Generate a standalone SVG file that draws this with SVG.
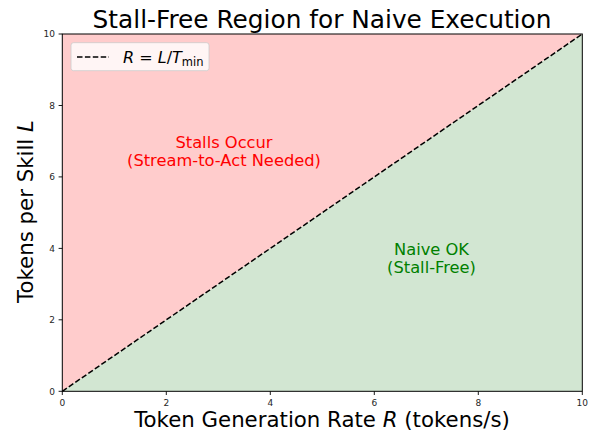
<svg xmlns="http://www.w3.org/2000/svg" width="597" height="436" viewBox="0 0 597 436">
  <style>
    text { font-family: "DejaVu Sans", sans-serif; fill: #000; }
    .tick { font-size: 9px; fill: #262626; }
    .title { font-size: 24.8px; }
    .axlabel { font-size: 21.3px; }
    .tickline { stroke: #000; stroke-width: 0.9; }
    .region-red { font-size: 16.3px; fill: #ff0000; }
    .region-green { font-size: 16.3px; fill: #008000; }
    .dash { stroke: #000; stroke-width: 1.5; stroke-dasharray: 5.5,2.4; }
  </style>
  <rect width="597" height="436" fill="#ffffff"/>

  <!-- plot area: x 0..10 -> 62.3..582.3, y 0..10 -> 391.3..34 -->
  <g id="region-stall">
    <polygon points="62.3,391.3 582.3,34 62.3,34" fill="#ffcccc"/>
    <text class="region-red" x="224" y="148" text-anchor="middle">Stalls Occur</text>
    <text class="region-red" x="224" y="166" text-anchor="middle">(Stream-to-Act Needed)</text>
  </g>
  <g id="region-ok">
    <polygon points="62.3,391.3 582.3,391.3 582.3,34" fill="#d2e6d2"/>
    <text class="region-green" x="431.5" y="255" text-anchor="middle">Naive OK</text>
    <text class="region-green" x="431.5" y="273" text-anchor="middle">(Stall-Free)</text>
  </g>

  <g id="connectors">
    <line class="dash" x1="62.3" y1="391.3" x2="582.3" y2="34"/>
  </g>

  <!-- axes frame -->
  <g id="axes">
    <rect x="62.3" y="34" width="520" height="357.3" fill="none" stroke="#000" stroke-width="1"/>
    <g class="tickline">
      <line x1="62.3" y1="391.3" x2="62.3" y2="395"/>
      <line x1="166.3" y1="391.3" x2="166.3" y2="395"/>
      <line x1="270.3" y1="391.3" x2="270.3" y2="395"/>
      <line x1="374.3" y1="391.3" x2="374.3" y2="395"/>
      <line x1="478.3" y1="391.3" x2="478.3" y2="395"/>
      <line x1="582.3" y1="391.3" x2="582.3" y2="395"/>
      <line x1="58.6" y1="391.3" x2="62.3" y2="391.3"/>
      <line x1="58.6" y1="319.8" x2="62.3" y2="319.8"/>
      <line x1="58.6" y1="248.4" x2="62.3" y2="248.4"/>
      <line x1="58.6" y1="176.9" x2="62.3" y2="176.9"/>
      <line x1="58.6" y1="105.5" x2="62.3" y2="105.5"/>
      <line x1="58.6" y1="34" x2="62.3" y2="34"/>
    </g>
    <g text-anchor="middle">
      <text class="tick" x="62.3" y="406">0</text>
      <text class="tick" x="166.3" y="406">2</text>
      <text class="tick" x="270.3" y="406">4</text>
      <text class="tick" x="374.3" y="406">6</text>
      <text class="tick" x="478.3" y="406">8</text>
      <text class="tick" x="582.3" y="406">10</text>
    </g>
    <g text-anchor="end">
      <text class="tick" x="55" y="394.5">0</text>
      <text class="tick" x="55" y="323">2</text>
      <text class="tick" x="55" y="251.6">4</text>
      <text class="tick" x="55" y="180.1">6</text>
      <text class="tick" x="55" y="108.7">8</text>
      <text class="tick" x="55" y="37.2">10</text>
    </g>
  </g>

  <g id="titles">
    <text class="title" x="322" y="28" text-anchor="middle">Stall-Free Region for Naive Execution</text>
    <text class="axlabel" x="322" y="427.3" text-anchor="middle">Token Generation Rate <tspan font-style="italic">R</tspan> (tokens/s)</text>
    <text class="axlabel" transform="translate(33,211.5) rotate(-90)" text-anchor="middle">Tokens per Skill <tspan font-style="italic">L</tspan></text>
  </g>

  <g id="legend">
    <rect x="71" y="42.7" width="138" height="28" rx="2.5" fill="#ffffff" fill-opacity="0.8" stroke="#cccccc" stroke-width="0.8"/>
    <line class="dash" x1="77" y1="57" x2="109" y2="57"/>
    <text x="123" y="62.5" font-size="16"><tspan font-style="italic">R</tspan> = <tspan font-style="italic">L</tspan>/<tspan font-style="italic">T</tspan><tspan font-size="11.5" dy="3">min</tspan></text>
  </g>
</svg>
